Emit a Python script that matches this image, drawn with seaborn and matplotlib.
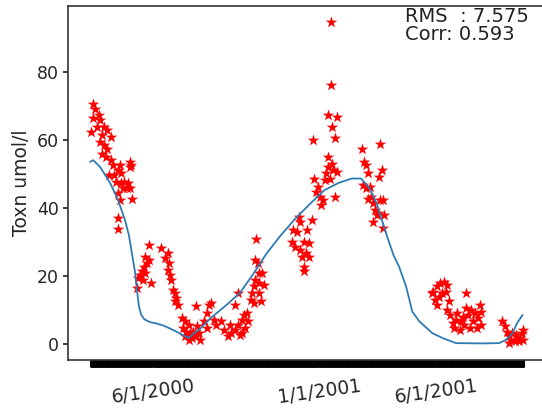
import pandas as pd
import numpy as np
import matplotlib
matplotlib.use("Agg")
import matplotlib.pyplot as plt
import matplotlib.dates as mdates
from matplotlib.ticker import FixedLocator
import seaborn as sns

sns.set_theme(style="ticks", context="notebook")
plt.rcParams['font.family'] = ['DejaVu Sans']

# day offsets are counted from this date
start = "2000-03-12"

# observed values (red stars)
obs_day = [4, 7, 4, 1, 11, 13, 9, 18, 22, 16, 27, 13, 18, 22, 16, 20, 27, 29, 38, 36,
           24, 31, 40, 51, 51, 53, 33, 40, 44, 49, 42, 47, 36, 51, 38, 54, 36, 36,
           76, 71, 76, 73, 69, 67, 71, 64, 62, 68, 61, 78,
           92, 101, 97, 102, 100, 103, 104, 107, 109, 111, 110, 113,
           118, 122, 127, 120, 124, 129, 122, 127, 131, 136, 133, 140, 142, 138, 136,
           147, 150, 153, 156, 151, 160,
           162, 169, 173, 180, 187, 182, 191, 196, 187, 190, 198, 200, 204, 193, 178,
           202, 196,
           207, 209, 211, 213, 218, 222, 218, 216, 213, 214, 220, 224, 217, 211,
           269, 271, 262, 267, 260, 264, 271, 276, 280, 278, 282, 275, 276, 286, 282, 273,
           287, 289, 291, 293, 296, 298, 300, 302, 304, 307, 306, 311, 313, 318, 309,
           315, 307, 318, 312, 316, 310, 310,
           350, 353, 356, 358, 351, 356, 360, 362, 358, 364, 367, 369, 364, 373, 376,
           372, 373, 377, 379, 377, 371,
           442, 447, 451, 456, 460, 444, 449, 453, 458, 447, 462, 440,
           460, 464, 471, 478, 482, 484, 484, 487, 491, 496, 500, 502, 504, 469, 476,
           489, 493, 498, 480, 467, 473, 504,
           531, 534, 537, 539, 542, 547, 551, 556, 553, 549, 558, 544, 540, 557]
obs_val = [70.8, 69.3, 66.4, 62.5, 67.4, 65.9, 63.9, 63.9, 62.9, 61.5, 61.0, 59.5, 58.5,
           57.5, 56.0, 55.1, 54.1, 52.6, 52.6, 51.2, 49.7, 49.7, 50.2, 53.6, 52.2, 52.6,
           47.7, 47.3, 47.7, 47.3, 45.8, 45.8, 44.3, 45.8, 42.4, 42.8, 37.0, 33.7,
           29.1, 25.7, 24.7, 23.7, 22.7, 21.3, 20.8, 20.3, 19.3, 18.8, 16.4, 17.8,
           28.1, 26.7, 25.2, 23.7, 21.8, 20.3, 18.8, 15.9, 14.9, 13.4, 12.5, 11.5,
           7.5, 6.6, 5.6, 4.6, 3.6, 3.1, 2.2, 1.2, 1.7, 2.2, 3.6, 3.1, 1.2, 5.1, 11.0,
           6.6, 9.0, 11.5, 12.0, 4.6, 7.1,
           5.6, 6.6, 4.1, 5.6, 4.1, 3.1, 5.6, 7.1, 11.5, 14.9, 8.5, 4.6, 6.6, 2.6, 2.2,
           9.0, 3.1,
           12.9, 14.9, 16.9, 18.8, 17.8, 20.8, 20.8, 23.7, 24.7, 30.8, 12.5, 17.3, 14.9, 12.0,
           37.5, 36.0, 33.5, 33.0, 30.1, 28.6, 27.6, 30.1, 33.5, 26.7, 25.7, 22.7, 21.3,
           36.5, 29.6, 25.7,
           60.0, 48.7, 44.8, 46.3, 43.3, 40.9, 42.4, 48.2, 50.2, 52.2, 55.1, 53.1, 51.2,
           50.7, 48.7, 43.3, 67.4, 66.9, 63.9, 60.5, 76.2, 94.8,
           57.5, 53.6, 52.6, 50.2, 46.8, 45.8, 46.3, 43.3, 42.8, 41.4, 39.4, 37.9, 36.0,
           59.0, 51.2, 49.2, 42.4, 42.4, 37.9, 34.0, 38.4,
           15.4, 16.9, 17.8, 18.3, 17.3, 12.9, 13.9, 14.9, 15.4, 11.5, 12.5, 14.9,
           10.0, 8.5, 7.1, 6.6, 5.6, 14.9, 10.5, 8.5, 10.0, 9.0, 7.5, 11.5, 9.5, 4.6, 4.1,
           4.6, 6.6, 4.6, 8.0, 6.1, 9.0, 5.6,
           6.6, 5.1, 3.6, 2.2, 1.2, 0.7, 1.7, 3.1, 0.7, 2.6, 4.1, 3.1, 0.2, 1.2]

# model curve (blue line)
mod_day = [0, 4, 13, 26, 36, 45, 50, 54, 58, 60, 63, 66, 70, 77, 85, 94, 102, 111, 120,
           127, 134, 142, 155, 175, 193, 210, 227, 245, 264, 284, 302, 320, 337, 349,
           360, 369, 375, 382, 391, 398, 407, 415, 424, 441, 454, 471, 505, 527, 536,
           544, 550, 557]
mod_val = [53.6, 54.1, 52.1, 47.3, 42.4, 36.5, 32.0, 26.5, 21.0, 16.5, 11.0, 8.5, 7.2,
           6.4, 6.0, 5.4, 4.6, 3.6, 2.5, 1.7, 3.2, 4.5, 7.5, 11.3, 15.0, 20.5, 26.5, 31.8,
           36.8, 41.4, 45.3, 47.4, 48.7, 48.7, 45.8, 41.4, 37.0, 32.0, 26.0, 22.7, 16.9,
           9.5, 6.6, 3.1, 1.7, 0.2, 0.1, 0.2, 1.2, 3.1, 6.1, 8.5]

tick_dates = ["2000-06-01", "2001-01-01", "2001-06-01"]
tick_labels = ["6/1/2000", "1/1/2001", "6/1/2001"]
stats_text = "RMS  : 7.575\nCorr: 0.593"

base = pd.Timestamp(start)
obs = pd.DataFrame({"date": base + pd.to_timedelta(obs_day, unit="D"), "val": obs_val})
mod = pd.DataFrame({"date": base + pd.to_timedelta(mod_day, unit="D"), "val": mod_val})

fig = plt.figure(figsize=(5.42, 4.08), dpi=100)
ax = fig.add_axes([68.4 / 542, 1 - 359.5 / 408, (545 - 68.4) / 542, (359.5 - 6) / 408])

sns.scatterplot(data=obs, x="date", y="val", marker="*", color="red", s=75,
                linewidth=0, ax=ax, zorder=2)
sns.lineplot(data=mod, x="date", y="val", color="#2f7bb3", linewidth=1.3, ax=ax, zorder=3)

ax.set_ylabel("Toxn umol/l", fontsize=13.5)
ax.set_xlabel("")
ax.set_yticks([0, 20, 40, 60, 80])
ax.tick_params(axis="y", labelsize=12.5, length=3.5)

# one tick per day over the record gives the solid bar under the axis
all_days = pd.date_range(obs["date"].min(), obs["date"].max(), freq="D")
ax.xaxis.set_minor_locator(FixedLocator(mdates.date2num(all_days)))
ax.set_xticks(mdates.date2num(pd.to_datetime(tick_dates)))
ax.set_xticklabels(tick_labels, rotation=8, fontsize=13.5)
ax.tick_params(axis="x", which="major", length=0, pad=12)
ax.tick_params(axis="x", which="minor", length=5, width=2.2, color="black")

for s in ax.spines.values():
    s.set_color("#333333")
    s.set_linewidth(1.2)

ax.text(0.706, 0.998, stats_text, transform=ax.transAxes, ha="left", va="top",
        fontsize=14, linespacing=0.95, color="#222222")

fig.savefig("out.png", dpi=100)
